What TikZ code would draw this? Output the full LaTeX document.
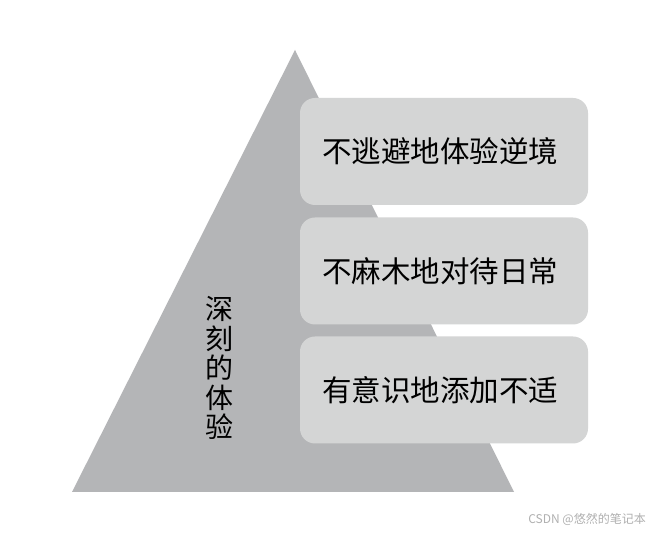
\documentclass[tikz,border=0pt]{standalone}
\usepackage{fontspec}
\newfontfamily\cjk{Noto Sans CJK SC}
\definecolor{trigray}{HTML}{B4B5B7}
\definecolor{boxgray}{HTML}{D4D5D5}
\definecolor{wmgray}{HTML}{B0B0B0}
\begin{document}
\begin{tikzpicture}[x=1pt,y=1pt,
  lvlbox/.style={fill=boxgray, draw=none, rounded corners=15pt, minimum width=288pt, minimum height=107pt, inner sep=0pt, text=black},
  lvltext/.style={font=\cjk\fontsize{29.5}{32}\selectfont, inner sep=0pt, text=black},
]
\useasboundingbox (0,0) rectangle (654,534);
\fill[white] (0,0) rectangle (654,534);
% pyramid
\coordinate (apex) at (295,484);
\coordinate (bl) at (72,42);
\coordinate (br) at (514,42);
\fill[trigray] (apex) -- (br) -- (bl) -- cycle;
% boxes
\node[lvlbox] (b1) at (444,382.5) {};
\node[lvlbox] (b2) at (444,263) {};
\node[lvlbox] (b3) at (444,144) {};
\node[lvltext] (t1) at ([xshift=-4pt]b1.center) {不逃避地体验逆境};
\node[lvltext] (t2) at ([xshift=-4pt]b2.center) {不麻木地对待日常};
\node[lvltext] (t3) at ([xshift=-4pt]b3.center) {有意识地添加不适};
% vertical label
\node[font=\cjk\fontsize{28}{29.5}\selectfont, align=center, inner sep=0pt] (lbl) at (219,166) {深\\刻\\的\\体\\验};
% watermark
\node[font=\cjk\fontsize{12}{13}\selectfont, text=wmgray, anchor=east, inner sep=0pt] (wm) at (646,15) {CSDN @悠然的笔记本};
\end{tikzpicture}
\end{document}
